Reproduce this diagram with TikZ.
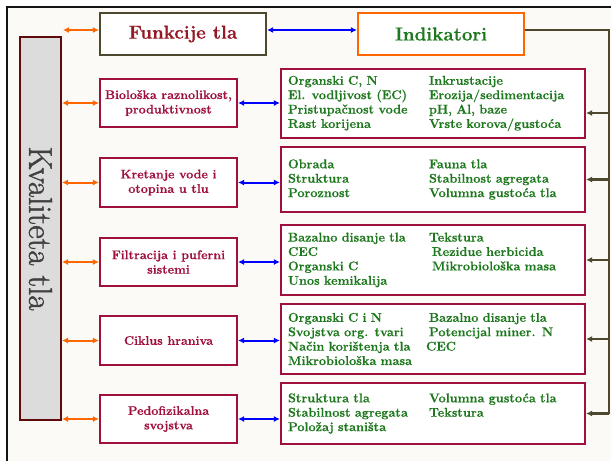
\documentclass[tikz,border=0pt]{standalone}
\usepackage{fontspec}
\setmainfont{Latin Modern Roman}[BoldFeatures={FakeBold=0.5}]
\newfontfamily\qualfont{Latin Modern Roman}[FakeBold=1.4]
\usepackage{tikz}
\usetikzlibrary{arrows.meta,positioning,calc}
\definecolor{frameBlack}{RGB}{20,20,20}
\definecolor{paper}{RGB}{251,250,246}
\definecolor{funRed}{RGB}{160,16,60}
\definecolor{titleRed}{RGB}{150,24,36}
\definecolor{indGreen}{RGB}{30,120,30}
\definecolor{linkOrange}{RGB}{255,102,0}
\definecolor{linkBlue}{RGB}{0,0,255}
\definecolor{railBrown}{RGB}{77,72,46}
\definecolor{qualRed}{RGB}{95,10,10}
\definecolor{qualGray}{RGB}{220,220,220}
\definecolor{qualText}{RGB}{64,64,64}
\tikzset{
  head/.style={line width=2.2pt, fill=white, minimum width=166pt, minimum height=42pt, font=\fontsize{18.8}{20}\selectfont\bfseries},
  func/.style={draw=funRed, line width=2.2pt, fill=white, text=funRed, align=center, minimum width=137pt, inner sep=2pt, font=\fontsize{12.5}{14.5}\selectfont\bfseries},
  ind/.style={draw=funRed, line width=2.2pt, fill=white, text=indGreen, align=left, text width=290pt, inner xsep=7pt, inner ysep=2pt, font=\fontsize{12.7}{14.4}\selectfont\bfseries},
  qual/.style={draw=qualRed, line width=2pt, fill=qualGray, text=qualText, minimum width=383pt, minimum height=41pt, font=\fontsize{33}{34}\qualfont},
  orangelink/.style={{Latex[length=6pt,width=6pt]}-{Latex[length=6pt,width=6pt]}, line width=2pt, linkOrange},
  bluelink/.style={{Latex[length=6pt,width=6pt]}-{Latex[length=6pt,width=6pt]}, line width=2pt, linkBlue},
  rail/.style={line width=2.5pt, railBrown},
  railarrow/.style={-{Latex[length=6pt,width=6pt]}, line width=2.5pt, railBrown}
}
\newcommand{\twocol}[2]{\makebox[141pt][l]{#1}#2}

\begin{document}
\begin{tikzpicture}[x=1pt,y=1pt]
  \useasboundingbox (0,0) rectangle (611,-461);
  \fill[paper] (7,-7) rectangle (611,-461);
  \draw[frameBlack, line width=2pt] (7,-461) -- (7,-7) -- (611,-7);

  \node[head, draw=railBrown, text=titleRed] (funk) at (183,-34) {Funkcije tla};
  \node[head, draw=linkOrange, text=indGreen] (indik) at (441,-34) {Indikatori};

  \node[qual, rotate=-90] (kval) at (40.5,-228.5) {Kvaliteta tla};

  \node[func, minimum height=48pt] (f1) at (168.5,-103) {Biološka raznolikost,\\produktivnost};
  \node[func, minimum height=49pt] (f2) at (168.5,-182.5) {Kretanje vode i\\otopina u tlu};
  \node[func, minimum height=48pt] (f3) at (168.5,-262) {Filtracija i puferni\\sistemi};
  \node[func, minimum height=49pt] (f4) at (168.5,-340.5) {Ciklus hraniva};
  \node[func, minimum height=48pt] (f5) at (168.5,-419) {Pedofizikalna\\svojstva};

  \node[ind, minimum height=69pt] (i1) at (433,-103.5) {
    \twocol{Organski C, N}{Inkrustacije}\\
    \twocol{El. vodljivost (EC)}{Erozija/sedimentacija}\\
    \twocol{Pristupačnost vode}{pH, Al, baze}\\
    \twocol{Rast korijena}{Vrste korova/gustoća}
  };
  \node[ind, minimum height=65pt] (i2) at (433,-179.5) {
    \twocol{Obrada}{Fauna tla}\\
    \twocol{Struktura}{Stabilnost agregata}\\
    \twocol{Poroznost}{Volumna gustoća tla}
  };
  \node[ind, minimum height=70pt] (i3) at (433,-260) {
    \twocol{Bazalno disanje tla}{Tekstura}\\
    \twocol{CEC}{\hspace{3pt}Rezidue herbicida}\\
    \twocol{Organski C}{\hspace{3pt}Mikrobiološka masa}\\
    Unos kemikalija
  };
  \node[ind, minimum height=70pt] (i4) at (433,-339) {
    \twocol{Organski C i N}{Bazalno disanje tla}\\
    \twocol{Svojstva org. tvari}{Potencijal miner. N}\\
    \twocol{Način korištenja tla}{\hspace{-3pt}CEC}\\
    Mikrobiološka masa
  };
  \node[ind, minimum height=61pt] (i5) at (433,-413.5) {
    \twocol{Struktura tla}{Volumna gustoća tla}\\
    \twocol{Stabilnost agregata}{Tekstura}\\
    Položaj staništa
  };

  % links between columns
  \draw[orangelink] ($(funk.west)+(-36,4)$) -- ($(funk.west)+(0,4)$);
  \foreach \n in {1,...,5}{
    \draw[orangelink] (f\n.west -| kval.north) -- (f\n.west);
    \draw[bluelink] (f\n.east) -- (f\n.east -| i\n.west);
  }
  \draw[bluelink] ($(funk.east)+(0,4)$) -- ($(indik.west)+(0,4)$);

  % indicator rail
  \coordinate (railtop) at (609,-30);
  \draw[rail] ($(indik.east)+(0,4)$) -- (railtop) -- (railtop |- i5.east);
  \draw[railarrow] (railtop |- i5.east) -- (i5.east);
  \draw[railarrow] (railtop |- 0,-113) -- (i1.east |- 0,-113);
  \foreach \n in {2,3,4}
    \draw[railarrow] (railtop |- i\n.east) -- (i\n.east);
\end{tikzpicture}
\end{document}
